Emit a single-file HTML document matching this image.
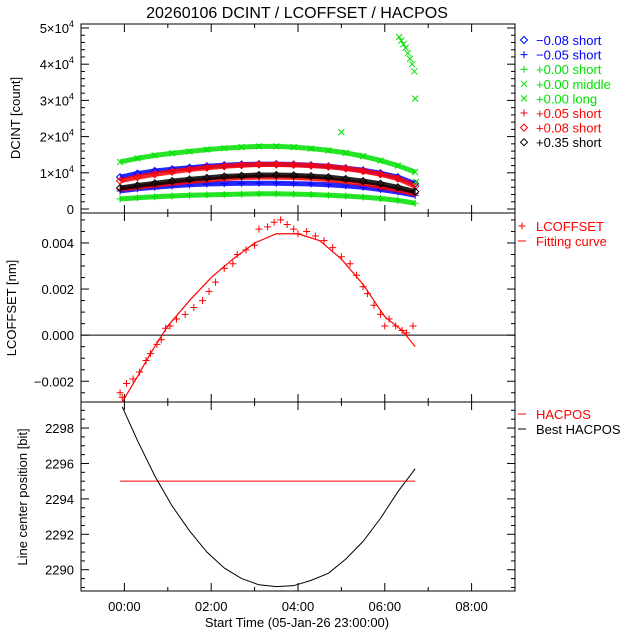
<!DOCTYPE html>
<html><head><meta charset="utf-8"><style>
body{margin:0;background:#fff;}
svg{display:block;font-family:"Liberation Sans",sans-serif;}
</style></head><body>
<svg id="c" width="640" height="640" viewBox="0 0 640 640"></svg>
<script>
// ---- data ----
const xTickLabels=["00:00","02:00","04:00","06:00","08:00"];
const xTickHours=[0,2,4,6,8];
const tBand=[-0.1,0.3,0.7,1.1,1.5,1.9,2.3,2.7,3.1,3.5,3.9,4.3,4.7,5.1,5.5,5.9,6.3,6.7];
const greenTop=[13.0,14.0,14.8,15.4,15.9,16.4,16.8,17.1,17.3,17.3,17.1,16.7,16.2,15.5,14.6,13.4,12.0,10.2];
const greenLow=[2.8,3.1,3.4,3.6,3.8,3.9,4.0,4.1,4.2,4.2,4.1,4.0,3.8,3.6,3.3,2.9,2.4,1.6];
const blueDiamond=[8.8,9.8,10.5,11.0,11.4,11.8,12.1,12.3,12.4,12.4,12.3,12.1,11.8,11.3,10.7,9.9,8.8,7.0];
const redDiamond=[7.8,8.8,9.6,10.3,10.9,11.4,11.8,12.1,12.3,12.3,12.2,12.0,11.7,11.2,10.5,9.6,8.4,6.3];
const blackDiamond=[5.8,6.5,7.1,7.7,8.2,8.6,9.0,9.2,9.4,9.4,9.3,9.1,8.8,8.3,7.7,7.0,6.0,4.8];
const redPlus=[5.5,6.0,6.6,7.1,7.6,8.0,8.4,8.7,8.8,8.8,8.7,8.5,8.1,7.6,7.0,6.2,5.3,4.2];
const bluePlus=[5.0,5.6,6.0,6.4,6.7,6.9,7.0,7.1,7.1,7.1,7.0,6.9,6.7,6.4,6.0,5.4,4.7,3.8];
const longT=[5.0,6.33,6.38,6.43,6.48,6.53,6.58,6.63,6.68,6.7,6.72];
const longV=[21.2,47.5,46.5,45.5,44.5,43.0,41.5,40.0,38.0,30.5,7.5];
const lcT=[-0.1,-0.05,0.05,0.2,0.35,0.5,0.6,0.75,0.85,0.95,1.05,1.2,1.4,1.6,1.8,1.95,2.1,2.3,2.5,2.6,2.8,3.0,3.1,3.3,3.45,3.6,3.75,3.9,4.0,4.2,4.4,4.6,4.8,5.0,5.2,5.35,5.5,5.6,5.75,5.9,6.0,6.1,6.25,6.4,6.5,6.65];
const lcV=[-0.0025,-0.0027,-0.0021,-0.0019,-0.0016,-0.0011,-0.0008,-0.0004,-0.0002,0.0003,0.0004,0.0007,0.0009,0.0012,0.0015,0.0019,0.0023,0.0029,0.0031,0.0035,0.0037,0.0039,0.0046,0.0047,0.0049,0.0050,0.0048,0.0046,0.0044,0.0045,0.0043,0.0041,0.0038,0.0034,0.0031,0.0026,0.0021,0.0018,0.0013,0.0009,0.0004,0.0007,0.0004,0.0002,0.0001,0.0004];
const fitT=[-0.05,0.3,0.6,1.0,1.5,2.0,2.5,3.0,3.5,4.0,4.5,5.0,5.5,6.0,6.4,6.7];
const fitV=[-0.0029,-0.0018,-0.0008,0.0004,0.0015,0.0025,0.0033,0.0040,0.0044,0.0044,0.0041,0.0033,0.0022,0.0008,0.0002,-0.0005];
const bestT=[-0.05,0.3,0.7,1.1,1.5,1.9,2.3,2.7,3.1,3.5,3.9,4.3,4.7,5.1,5.5,5.9,6.3,6.7];
const bestV=[2299.2,2297.3,2295.3,2293.6,2292.2,2291.0,2290.1,2289.5,2289.15,2289.05,2289.1,2289.4,2289.8,2290.6,2291.6,2292.9,2294.4,2295.7];
const hacT=[-0.1,6.7];
const hacV=[2295,2295];

const NS="http://www.w3.org/2000/svg";
const svg=document.getElementById('c');
function mk(tag,attrs,parent){const e=document.createElementNS(NS,tag);for(const k in attrs)e.setAttribute(k,attrs[k]);(parent||svg).appendChild(e);return e;}
const X0=81,X1=515;
const xs=h=>X0+(h+1)/10*(X1-X0);
const panels=[
 {top:24,bot:213,ymin:-1100,ymax:51100,maj:[0,10000,20000,30000,40000,50000],minor:2000},
 {top:213,bot:402,ymin:-0.0029,ymax:0.0053,maj:[-0.002,0,0.002,0.004],minor:0.0005},
 {top:402,bot:591,ymin:2288.8,ymax:2299.47,maj:[2290,2292,2294,2296,2298],minor:0.5}
];
panels.forEach(p=>p.y=v=>p.bot-(v-p.ymin)/(p.ymax-p.ymin)*(p.bot-p.top));

// title
let t=mk('text',{x:297,y:18,'text-anchor':'middle','font-size':16});t.textContent="20260106 DCINT / LCOFFSET / HACPOS";



panels.forEach((p,i)=>{
 const g=mk('g',{});
 
 
 mk('rect',{x:X0,y:p.top,width:X1-X0,height:p.bot-p.top,fill:'none',stroke:'#000','stroke-width':1},g);
 for(let h=-1;h<=9;h++){const x=xs(h),L=(h%2===0)?8:4;
  mk('line',{x1:x,x2:x,y1:p.bot,y2:p.bot-L,stroke:'#000'},g);
  mk('line',{x1:x,x2:x,y1:p.top,y2:p.top+L,stroke:'#000'},g);}
 for(let v=Math.ceil(p.ymin/p.minor)*p.minor;v<=p.ymax;v+=p.minor){const y=p.y(v);
  const isMaj=p.maj.some(m=>Math.abs(m-v)<p.minor/10);const L=isMaj?8:4;
  mk('line',{x1:X0,x2:X0+L,y1:y,y2:y,stroke:'#000'},g);
  mk('line',{x1:X1,x2:X1-L,y1:y,y2:y,stroke:'#000'},g);}
});
// y tick labels
panels[0].maj.forEach(v=>{const y=panels[0].y(v);const e=mk('text',{x:74,y:y+5,'text-anchor':'end','font-size':13});
 if(v===0)e.textContent="0";else{e.innerHTML=(v/10000)+"×10<tspan dy='-6' font-size='9'>4</tspan>";}
 
 });
panels[1].maj.forEach(v=>{const e=mk('text',{x:74,y:panels[1].y(v)+5,'text-anchor':'end','font-size':13});e.textContent=(v<0?"−":"")+Math.abs(v).toFixed(3);
 
 });
panels[2].maj.forEach(v=>{const e=mk('text',{x:74,y:panels[2].y(v)+5,'text-anchor':'end','font-size':13});e.textContent=v;
 
 });
xTickHours.forEach((h,i)=>{const e=mk('text',{x:xs(h),y:611,'text-anchor':'middle','font-size':13});e.textContent=xTickLabels[i];
 
 });
// axis titles
[["DCINT [count]",20,118,'y-axis-title-dcint'],["LCOFFSET [nm]",16,308,'y-axis-title-lcoffset'],["Line center position [bit]",27,497,'y-axis-title-position']].forEach(a=>{
 const e=mk('text',{x:a[1],y:a[2],'text-anchor':'middle','font-size':13,transform:`rotate(-90 ${a[1]} ${a[2]})`});e.textContent=a[0];
 
 });
t=mk('text',{x:297,y:627,'text-anchor':'middle','font-size':13});t.textContent="Start Time (05-Jan-26 23:00:00)";



function marker(g,x,y,type,col){
 if(type==='d')mk('path',{d:`M${x-3.5},${y}L${x},${y-3.5}L${x+3.5},${y}L${x},${y+3.5}Z`,fill:'none',stroke:col},g);
 else if(type==='+')mk('path',{d:`M${x-3.5},${y}H${x+3.5}M${x},${y-3.5}V${y+3.5}`,stroke:col},g);
 else mk('path',{d:`M${x-3},${y-3}L${x+3},${y+3}M${x-3},${y+3}L${x+3},${y-3}`,stroke:col},g);
}
const P1=panels[0];
[[greenTop,'x','#00e000','series-green-middle'],[greenLow,'+','#00e000','series-green-short'],[blueDiamond,'d','#0000ff','series-blue-diamond'],[redDiamond,'d','#ff0000','series-red-diamond'],[bluePlus,'+','#0000ff','series-blue-plus'],[redPlus,'+','#ff0000','series-red-plus'],[blackDiamond,'d','#000','series-black-diamond']].forEach(s=>{
 const g=mk('g',{});
 
 
 mk('polyline',{points:tBand.map((h,i)=>xs(h)+','+P1.y(s[0][i]*1000)).join(' '),fill:'none',stroke:s[2],'stroke-width':5,'stroke-opacity':0.85},g);
 tBand.forEach((h,i)=>marker(g,xs(h),P1.y(s[0][i]*1000),s[1],s[2]));
});
{const g=mk('g',{});
 
 
 longT.forEach((h,i)=>marker(g,xs(h),P1.y(longV[i]*1000),'x','#00e000'));}

const P2=panels[1];
mk('line',{x1:X0,x2:X1,y1:P2.y(0),y2:P2.y(0),stroke:'#000'});
{const g=mk('g',{});
 
 
 lcT.forEach((h,i)=>marker(g,xs(h),P2.y(lcV[i]),'+','#ff0000'));
 const f=mk('polyline',{points:fitT.map((h,i)=>xs(h)+','+P2.y(fitV[i])).join(' '),fill:'none',stroke:'#ff0000','stroke-width':1.2});
 
 }
const P3=panels[2];
{const h=mk('polyline',{points:hacT.map((x,i)=>xs(x)+','+P3.y(hacV[i])).join(' '),fill:'none',stroke:'#ff0000'});
 
 
 const b=mk('polyline',{points:bestT.map((x,i)=>xs(x)+','+P3.y(bestV[i])).join(' '),fill:'none',stroke:'#000'});
 
 }

// legends
const leg1=[["d","−0.08 short","#0000ff"],["+","−0.05 short","#0000ff"],["+","+0.00 short","#00e000"],["x","+0.00 middle","#00e000"],["x","+0.00 long","#00e000"],["+","+0.05 short","#ff0000"],["d","+0.08 short","#ff0000"],["d","+0.35 short","#000"]];
leg1.forEach((l,i)=>{const y=40+i*14.6;const g=mk('g',{});
 
 
 marker(g,524,y,l[0],l[2]);const e=mk('text',{x:536,y:y+5,'font-size':13,fill:l[2]},g);e.textContent=l[1];});
[[226,"+","LCOFFSET","#ff0000"],[241,"-","Fitting curve","#ff0000"],[414,"-","HACPOS","#ff0000"],[429,"-","Best HACPOS","#000"]].forEach(l=>{
 const g=mk('g',{});
 
 
 if(l[1]==='+')marker(g,522,l[0],'+',l[3]);else mk('line',{x1:518,x2:526,y1:l[0],y2:l[0],stroke:l[3]},g);
 const e=mk('text',{x:536,y:l[0]+5,'font-size':13,fill:l[3]},g);e.textContent=l[2];});
</script>
</body></html>
